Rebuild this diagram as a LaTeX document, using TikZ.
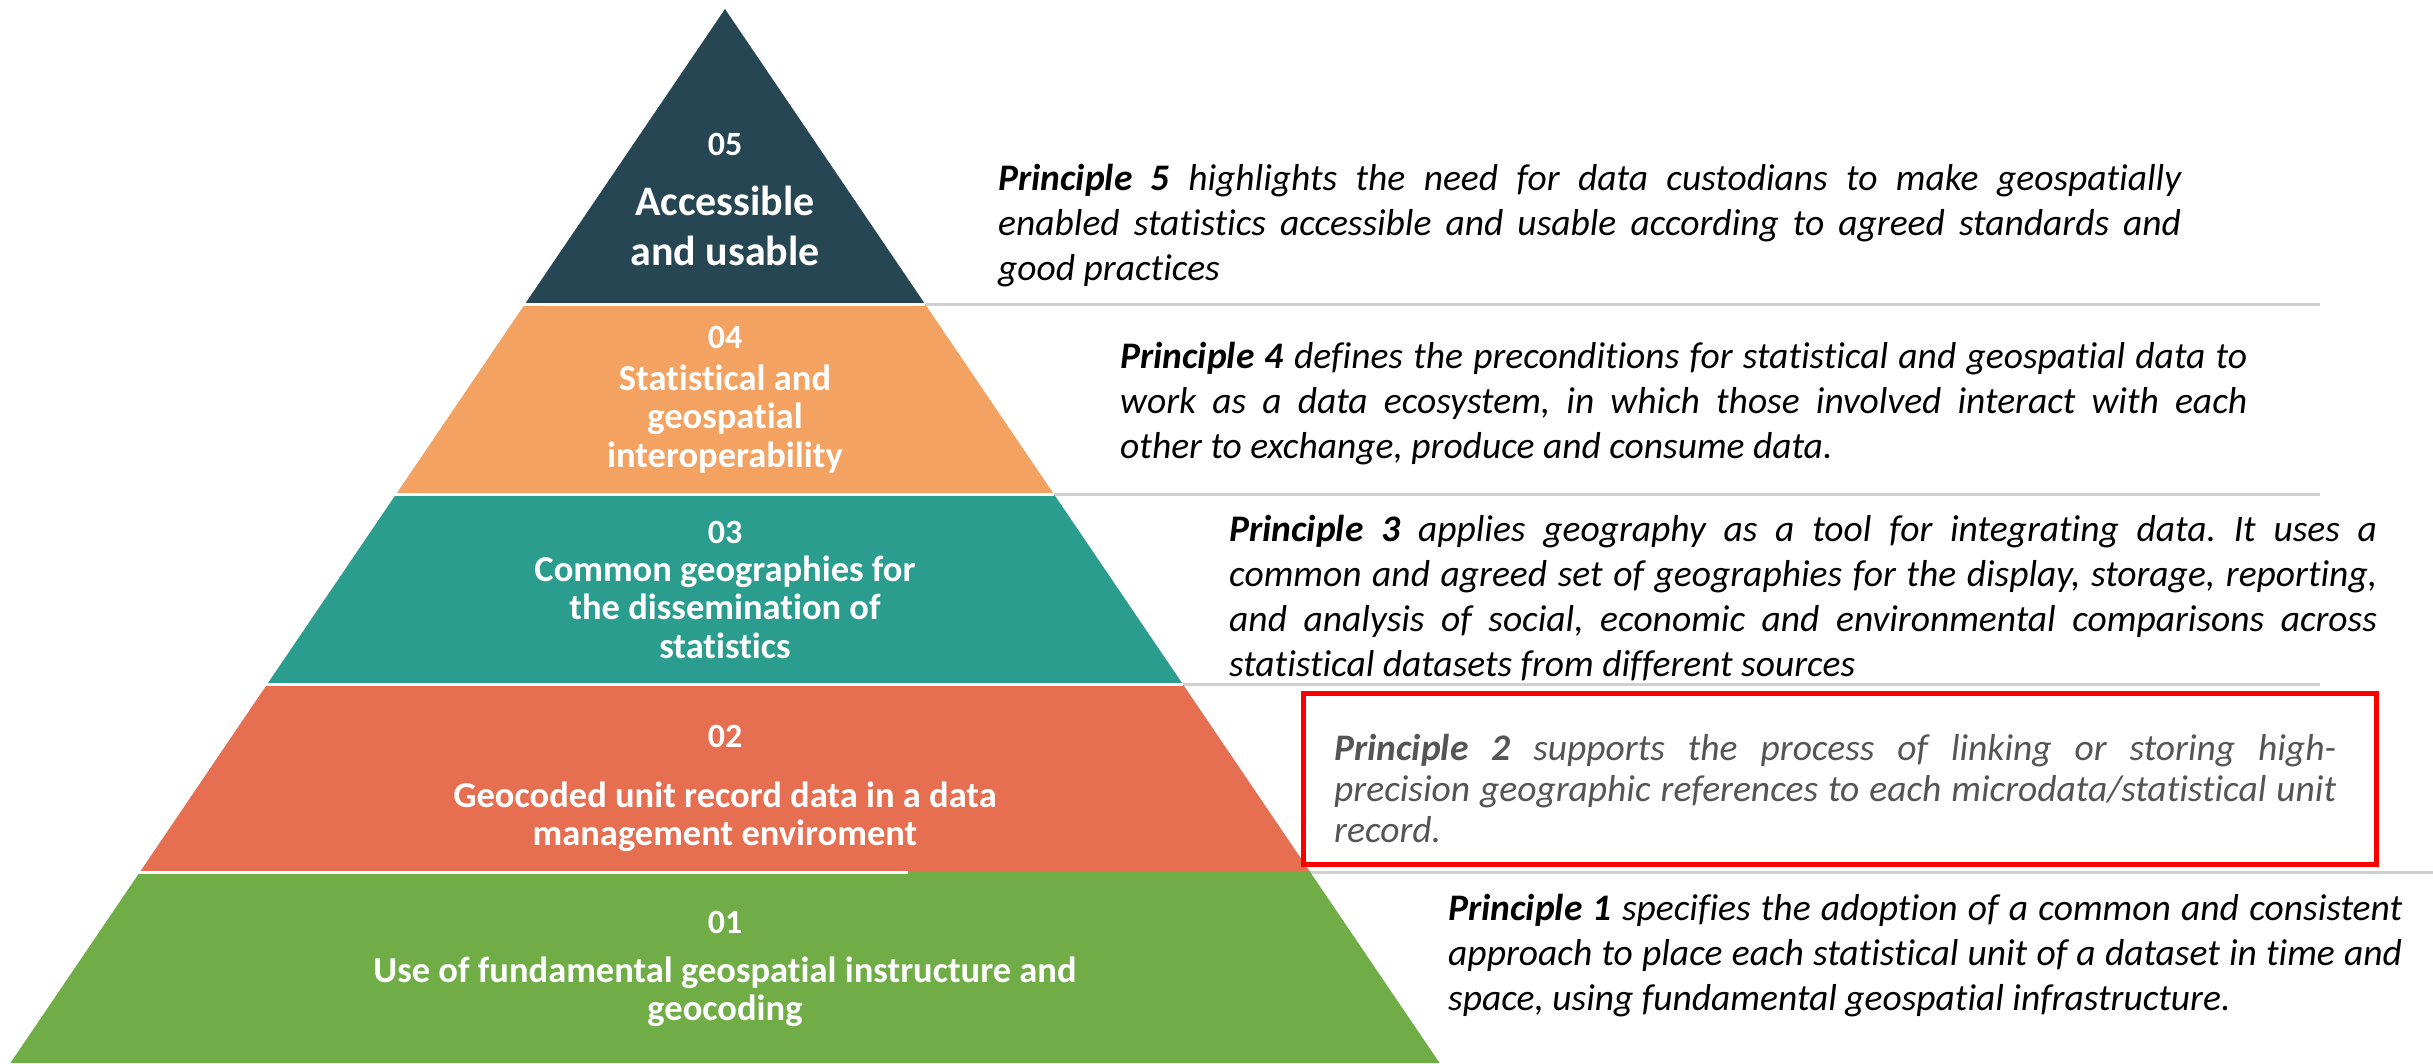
\documentclass[tikz,border=0pt]{standalone}
\usepackage{fontspec}
\setmainfont[Ligatures=NoCommon]{Carlito}
\definecolor{lvlfive}{HTML}{264653}
\definecolor{lvlfour}{HTML}{F4A261}
\definecolor{lvlthree}{HTML}{2A9D8F}
\definecolor{lvltwo}{HTML}{E76F51}
\definecolor{lvlone}{HTML}{70AD47}
\definecolor{sepgrey}{HTML}{D0D0D0}
\definecolor{ptwogrey}{HTML}{555555}
\definecolor{boxred}{HTML}{FF0000}
\newcommand{\jline}[2]{\makebox[#1pt][s]{#2}}
\frenchspacing
\begin{document}
\begin{tikzpicture}[x=1pt,y=-1pt,
  lvlnum/.style={anchor=base, inner sep=0pt, text=white, font=\fontsize{34}{40}\selectfont\bfseries},
  lvltitle/.style={anchor=base, inner sep=0pt, text=white, font=\fontsize{36.5}{38.5}\selectfont\bfseries},
  bigtitle/.style={anchor=base, inner sep=0pt, text=white, font=\fontsize{42}{50}\selectfont\bfseries},
  ptext/.style={anchor=base west, inner sep=0pt, text=black, font=\fontsize{37.5}{45}\selectfont\itshape},
  ptexttwo/.style={anchor=base west, inner sep=0pt, text=ptwogrey, font=\fontsize{37.5}{41}\selectfont\itshape},
  sepline/.style={draw=sepgrey, line width=3pt},
  gapline/.style={draw=white, line width=3pt},
  redbox/.style={draw=boxred, line width=5pt}
]
\useasboundingbox (0,0) rectangle (2433,1063);
\fill[white] (0,0) rectangle (2433,1063);
% pyramid corner coordinates
\coordinate (apex) at (725,9);
\coordinate (l1) at (525,304);   \coordinate (r1) at (925,304);
\coordinate (l2) at (396.2,494); \coordinate (r2) at (1053.8,494);
\coordinate (l3) at (267.3,684); \coordinate (r3) at (1182.7,684);
\coordinate (l4) at (139.9,872); \coordinate (r4) at (1310.1,872);
\coordinate (l5) at (10.4,1063); \coordinate (r5) at (1439.6,1063);
% grey separator lines
\coordinate (e1) at (2320,304);
\coordinate (e2) at (2320,494);
\coordinate (e3) at (2320,684);
\coordinate (s4) at (908,872);
\coordinate (e4) at (2433,872);
\draw[sepline] (r1) -- (e1);
\draw[sepline] (r2) -- (e2);
\draw[sepline] (r3) -- (e3);
\draw[sepline] (s4) -- (e4);
% pyramid levels
\fill[lvlfive] (apex) -- (r1) -- (l1) -- cycle;
\fill[lvlfour] (l1) -- (r1) -- (r2) -- (l2) -- cycle;
\fill[lvlthree] (l2) -- (r2) -- (r3) -- (l3) -- cycle;
\fill[lvltwo] (l3) -- (r3) -- (r4) -- (l4) -- cycle;
\fill[lvlone] (l4) -- (r4) -- (r5) -- (l5) -- cycle;
% white gaps
\coordinate (g1) at (515,304); \coordinate (g2) at (386,494); \coordinate (g3) at (257,684); \coordinate (g4) at (130,872);
\draw[gapline] (g1) -- (r1);
\draw[gapline] (g2) -- (r2);
\draw[gapline] (g3) -- (r3);
\draw[gapline] (g4) -- (s4);
% level labels
\node[lvlnum] (n5) at (725,155) {05};
\node[bigtitle] (t5) at (725,215) {\parbox[t]{400pt}{\centering Accessible\\and usable}};
\node[lvlnum] (n4) at (725,348) {04};
\node[lvltitle] (t4) at (725,390) {\parbox[t]{600pt}{\centering Statistical and\\geospatial\\interoperability}};
\node[lvlnum] (n3) at (725,543) {03};
\node[lvltitle] (t3) at (725,581) {\parbox[t]{800pt}{\centering Common geographies for\\the dissemination of\\statistics}};
\node[lvlnum] (n2) at (725,747) {02};
\node[lvltitle] (t2) at (725,807) {\parbox[t]{1000pt}{\centering Geocoded unit record data in a data\\management enviroment}};
\node[lvlnum] (n1) at (725,933) {01};
\node[lvltitle] (t1) at (725,982) {\parbox[t]{1200pt}{\centering Use of fundamental geospatial instructure and\\geocoding}};
% principle texts
\node[ptext] (p5) at (998,190) {\parbox[t]{1183pt}{%
\jline{1183}{\textbf{Principle 5} highlights the need for data custodians to make geospatially}\\
\jline{1183}{enabled statistics accessible and usable according to agreed standards and}\\
good practices}};
\node[ptext] (p4) at (1120,368) {\parbox[t]{1127pt}{%
\jline{1127}{\textbf{Principle 4} defines the preconditions for statistical and geospatial data to}\\
\jline{1127}{work as a data ecosystem, in which those involved interact with each}\\
other to exchange, produce and consume data.}};
\node[ptext] (p3) at (1229,541) {\parbox[t]{1148pt}{%
\jline{1148}{\textbf{Principle 3} applies geography as a tool for integrating data. It uses a}\\
\jline{1148}{common and agreed set of geographies for the display, storage, reporting,}\\
\jline{1148}{and analysis of social, economic and environmental comparisons across}\\
statistical datasets from different sources}};
\draw[redbox] (1303,693) rectangle (2376,864);
\node[ptexttwo] (p2) at (1334,760) {\parbox[t]{1002pt}{%
\jline{1002}{\textbf{Principle 2} supports the process of linking or storing high-}\\
\jline{1002}{precision geographic references to each microdata/statistical unit}\\
record.}};
\node[ptext] (p1) at (1448,920) {\parbox[t]{954pt}{%
\jline{954}{\textbf{Principle 1} specifies the adoption of a common and consistent}\\
\jline{954}{approach to place each statistical unit of a dataset in time and}\\
space, using fundamental geospatial infrastructure.}};
\end{tikzpicture}
\end{document}
